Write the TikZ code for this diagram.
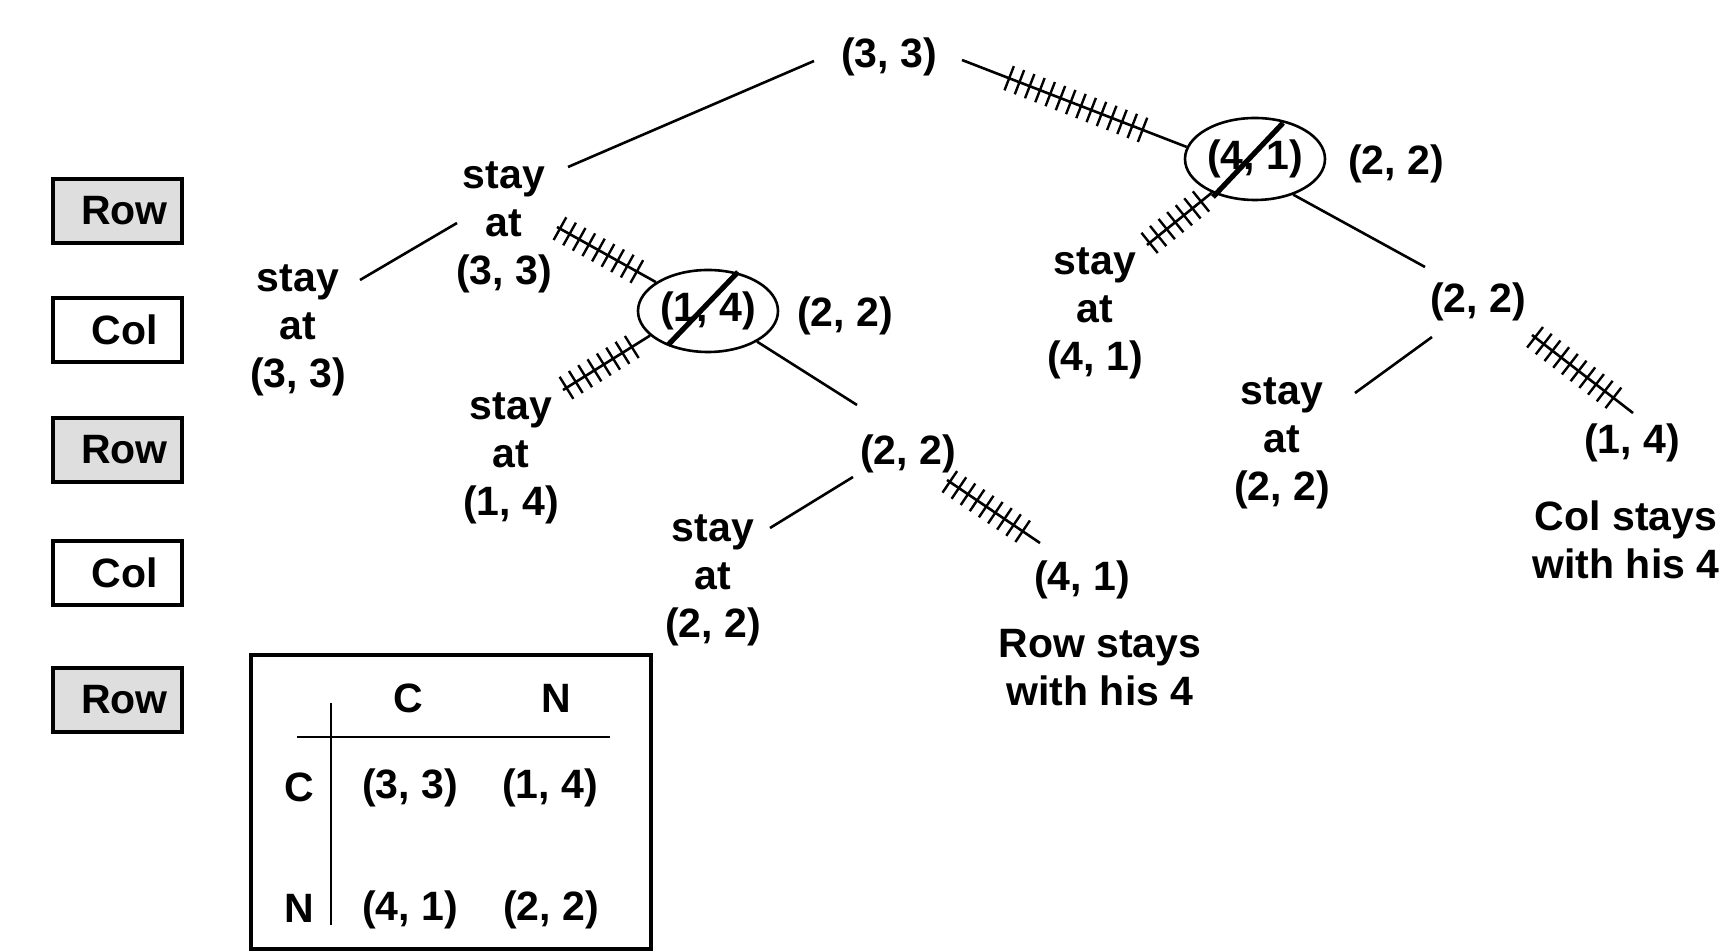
\documentclass[tikz,border=0pt]{standalone}
\usepackage{fontspec}
\setmainfont{Liberation Sans}
\usetikzlibrary{shapes.geometric,decorations.markings}
\begin{document}
\begin{tikzpicture}[x=0.5pt,y=-0.5pt,
  tx/.style={inner sep=0pt, align=center, font=\bfseries\fontsize{20.5}{24}\selectfont},
  link/.style={line width=1.3pt},
  hatch/.style 2 args={link, postaction={decorate}, decoration={markings, mark=between positions #1 and #2 step 5.5pt with {\draw[line width=1.2pt] (0,-6.5pt) -- (0,6.5pt);}}},
  oval/.style={tx, draw, ellipse, line width=1.3pt, inner sep=0pt, minimum width=70pt, minimum height=41pt},
  slash/.style={line width=2.6pt},
  player/.style={tx, draw, line width=1.6pt, minimum width=64.5pt, minimum height=32pt, inner sep=0pt},
  rowp/.style={player, fill=black!13},
  colp/.style={player, fill=white},
  tline/.style={line width=1.3pt}
]
\useasboundingbox (0,0) rectangle (1736,951);

% player boxes
\node[rowp] (r1) at (117.5,211) {\hspace*{7pt}Row};
\node[colp] (c1) at (117.5,330) {\hspace*{7pt}Col};
\node[rowp] (r2) at (117.5,450) {\hspace*{7pt}Row};
\node[colp] (c2) at (117.5,573) {\hspace*{7pt}Col};
\node[rowp] (r3) at (117.5,700) {\hspace*{7pt}Row};

% tree nodes
\node[tx] (T) at (889,57) {(3, 3)};
\node[tx] (S1) at (504,227) {stay\\at\\(3, 3)};
\node[tx] (S0) at (298,330) {stay\\at\\(3, 3)};
\node[oval] (E2) at (708,311) {(1, 4)};
\node[tx] (E2p) at (845,316) {(2, 2)};
\node[tx] (S4) at (511,458) {stay\\at\\(1, 4)};
\node[tx] (P2) at (908,454) {(2, 2)};
\node[tx] (S5) at (713,580) {stay\\at\\(2, 2)};
\node[tx] (Q2) at (1082,580) {(4, 1)};
\node[tx] (RS) at (1100,668) {Row stays\\with his 4};
\node[oval] (E1) at (1255,159) {(4, 1)};
\node[tx] (E1p) at (1396,164) {(2, 2)};
\node[tx] (S2) at (1095,313) {stay\\at\\(4, 1)};
\node[tx] (P1) at (1478,302) {(2, 2)};
\node[tx] (S3) at (1282,443) {stay\\at\\(2, 2)};
\node[tx] (Q1) at (1632,443) {(1, 4)};
\node[tx] (CS) at (1626,540) {Col stays\\with his 4};

% connectors
\draw[link] ([shift={(-75,4)}]T.center) -- ([shift={(64,-60)}]S1.center);
\draw[hatch={0.21}{0.84}] ([shift={(73,3)}]T.center) -- (E1.170);
\draw[hatch={0.04}{0.86}] ([shift={(52,-68)}]S2.center) -- (E1.218);
\draw[link] (E1.-43) -- ([shift={(-53,-35)}]P1.center);
\draw[link] ([shift={(-46,35)}]P1.center) -- ([shift={(73,-50)}]S3.center);
\draw[hatch={0.03}{0.89}] ([shift={(54,33)}]P1.center) -- ([shift={(1,-30)}]Q1.center);
\draw[link] ([shift={(-47,-4)}]S1.center) -- ([shift={(62,-50)}]S0.center);
\draw[hatch={0.03}{0.9}] ([shift={(53,0)}]S1.center) -- (E2.151);
\draw[hatch={0.04}{0.88}] ([shift={(52,-68)}]S4.center) -- (E2.203);
\draw[link] (E2.-32) -- ([shift={(-51,-49)}]P2.center);
\draw[link] ([shift={(-55,23)}]P2.center) -- ([shift={(57,-52)}]S5.center);
\draw[hatch={0.03}{0.9}] ([shift={(39,26)}]P2.center) -- ([shift={(-42,-37)}]Q2.center);

% slashes
\draw[slash] ([shift={(28,-36)}]E1.center) -- ([shift={(-42,38)}]E1.center);
\draw[slash] ([shift={(30,-39)}]E2.center) -- ([shift={(-40,34)}]E2.center);

% payoff table
\node[draw, line width=1.6pt, minimum width=200pt, minimum height=147pt, inner sep=0pt] (pm) at (451,802) {};
\draw[tline] (331,703) -- (331,925);
\draw[tline] (297,737) -- (610,737);
\node[tx] (hc) at (408,698) {C};
\node[tx] (hn) at (556,698) {N};
\node[tx] (rc) at (299,787) {C};
\node[tx] (rn) at (299,908) {N};
\node[tx] (m11) at (410,788) {(3, 3)};
\node[tx] (m12) at (550,788) {(1, 4)};
\node[tx] (m21) at (410,910) {(4, 1)};
\node[tx] (m22) at (551,910) {(2, 2)};
\end{tikzpicture}
\end{document}
